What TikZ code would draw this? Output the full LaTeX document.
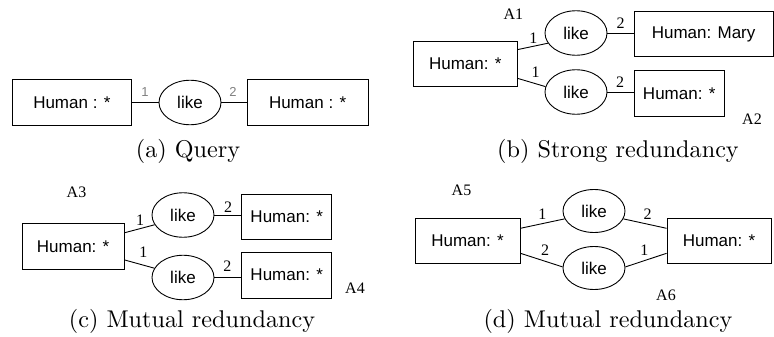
\documentclass[tikz,border=0pt]{standalone}
\usepackage{fontspec}
\newfontfamily\hel{Liberation Sans}
\newfontfamily\tim{Liberation Serif}
\usetikzlibrary{shapes.geometric}
\begin{document}
\begin{tikzpicture}[x=1pt,y=-1pt,
  ent/.style={draw, line width=0.9pt, minimum height=45.5pt, inner sep=0pt, font=\hel\fontsize{17}{20}\selectfont},
  rel/.style={ellipse, draw, line width=0.9pt, minimum width=62pt, minimum height=44.5pt, inner sep=0pt, font=\hel\fontsize{17}{20}\selectfont},
  lab/.style={font=\tim\fontsize{16}{18}\selectfont, inner sep=0pt},
  glab/.style={font=\hel\fontsize{13}{15}\selectfont, text=gray, inner sep=0pt},
  captxt/.style={font=\fontsize{10}{12}\selectfont, scale=2.42, anchor=base, inner sep=0pt},
  conn/.style={line width=0.9pt}]
\useasboundingbox (0,0) rectangle (774,337);
% (a)
\node[ent, minimum width=118.3pt] (aL) at (71.85,102.3) {Human : *};
\node[rel] (aE) at (190,102.5) {like};
\node[ent, minimum width=120.7pt] (aR) at (307.6,102.3) {Human : *};
\draw[conn] (aL.east) -- (aL.east -| aE.west);
\draw[conn] (aE.east) -- (aE.east -| aR.west);
\node[glab] (a1) at (145,92) {1};
\node[glab] (a2) at (233,92) {2};
\node[captxt] (capa) at (188,157) {(a) Query};
% (b)
\node[ent, minimum width=104.7pt, minimum height=45pt] (bL) at (465.3,63.5) {Human: *};
\node[rel] (bE1) at (576,33) {like};
\node[rel] (bE2) at (576,92) {like};
\node[ent, minimum width=138.7pt, minimum height=45pt] (bM) at (703.6,34) {Human: Mary};
\node[ent, minimum width=89.7pt] (bR) at (679.2,93.3) {Human: *};
\draw[conn] ([yshift=14pt]bL.east) -- (bE1.200);
\draw[conn] ([yshift=-15pt]bL.east) -- (bE2.170);
\draw[conn] (bE1.east) -- (bE1.east -| bM.west);
\draw[conn] (bE2.east) -- (bE2.east -| bR.west);
\node[lab] (b1) at (533.3,38.3) {1};
\node[lab] (b2) at (535.7,72.7) {1};
\node[lab] (b3) at (620.7,23.3) {2};
\node[lab] (b4) at (620,82.7) {2};
\node[lab] (A1) at (513.3,14) {A1};
\node[lab] (A2) at (752,119) {A2};
\node[captxt] (capb) at (618,157) {(b) Strong redundancy};
% (c)
\node[ent, minimum width=102.3pt, minimum height=46pt] (cL) at (73.15,246.3) {Human: *};
\node[rel] (cE1) at (183,215) {like};
\node[rel] (cE2) at (183,277.5) {like};
\node[ent, minimum width=90pt, minimum height=45pt] (cR1) at (286.7,216.5) {Human: *};
\node[ent, minimum width=90pt, minimum height=46pt] (cR2) at (286.7,275) {Human: *};
\draw[conn] ([yshift=13.6pt]cL.east) -- (cE1.199);
\draw[conn] ([yshift=-13.7pt]cL.east) -- (cE2.162);
\draw[conn] (cE1.east) -- (cE1.east -| cR1.west);
\draw[conn] (cE2.east) -- (cE2.east -| cR2.west);
\node[lab] (c1) at (140,220) {1};
\node[lab] (c2) at (143.3,252.7) {1};
\node[lab] (c3) at (228,207.5) {2};
\node[lab] (c4) at (227.3,266.7) {2};
\node[lab] (A3) at (76.5,192.7) {A3};
\node[lab] (A4) at (355,288) {A4};
\node[captxt] (capc) at (192,327) {(c) Mutual redundancy};
% (d)
\node[ent, minimum width=105pt, minimum height=45pt] (dL) at (467.5,240.8) {Human: *};
\node[ent, minimum width=104pt, minimum height=45pt] (dR) at (719,240.8) {Human: *};
\node[rel, minimum height=43pt] (dE1) at (594,211) {like};
\node[rel, minimum height=43pt] (dE2) at (594,268) {like};
\draw[conn] ([yshift=12.5pt]dL.east) -- (dE1.195);
\draw[conn] (dE1.345) -- ([yshift=12.5pt]dR.west);
\draw[conn] ([yshift=-12.5pt]dL.east) -- (dE2.178);
\draw[conn] (dE2.2) -- ([yshift=-12.5pt]dR.west);
\node[lab] (d1) at (542.3,214) {1};
\node[lab] (d2) at (647.7,214) {2};
\node[lab] (d3) at (545,250) {2};
\node[lab] (d4) at (644.3,250) {1};
\node[lab] (A5) at (461.5,190) {A5};
\node[lab] (A6) at (666,295) {A6};
\node[captxt] (capd) at (608,327) {(d) Mutual redundancy};
\end{tikzpicture}
\end{document}
